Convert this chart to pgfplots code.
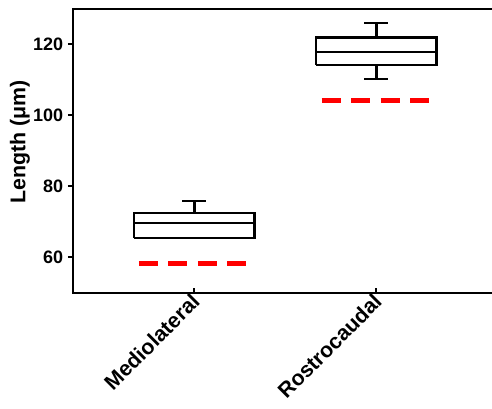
\documentclass[border=0pt]{standalone}
\usepackage{fontspec}
\setmainfont{Liberation Sans}
\usepackage{pgfplots}
\pgfplotsset{compat=1.18}
\begin{document}
\begin{tikzpicture}
\begin{axis}[
    scale only axis,
    width=318.9pt, height=212.8pt,
    xmin=0.332, xmax=2.668,
    ymin=50, ymax=130,
    ytick={60,80,100,120},
    xtick={1,2},
    xticklabels={Mediolateral,Rostrocaudal},
    xtick pos=bottom, ytick pos=left,
    tick align=outside,
    major tick length=3.6pt,
    axis line style={line width=1.5pt},
    every tick/.style={black, line width=1.5pt},
    xtick style={yshift=3.6pt},
    y tick label style={font=\bfseries\fontsize{13.5}{15}\selectfont},
    x tick label style={font=\bfseries\fontsize{16}{18}\selectfont,
        rotate=45, anchor=east, xshift=4pt, yshift=-1pt},
    /pgf/number format/assume math mode=true,
    ylabel={Length (μm)},
    ylabel style={font=\bfseries\fontsize{16}{18}\selectfont,
        at={(axis description cs:-0.124,0.531)}, anchor=center},
    box/.style={black, line width=1.9pt, line join=miter},
]
% Mediolateral: box, median, whisker
\addplot[box] coordinates {(0.67,65.4) (1.33,65.4) (1.33,72.5) (0.67,72.5) (0.67,65.4)};
\addplot[box] coordinates {(0.67,69.7) (1.33,69.7)};
\addplot[box] coordinates {(1,72.5) (1,75.9)};
\addplot[box] coordinates {(0.935,75.9) (1.065,75.9)};
% Rostrocaudal
\addplot[box] coordinates {(1.67,114.2) (2.33,114.2) (2.33,121.9) (1.67,121.9) (1.67,114.2)};
\addplot[box] coordinates {(1.67,117.9) (2.33,117.9)};
\addplot[box] coordinates {(2,121.9) (2,126.1)};
\addplot[box] coordinates {(1.935,126.1) (2.065,126.1)};
\addplot[box] coordinates {(2,114.2) (2,110.2)};
\addplot[box] coordinates {(1.935,110.2) (2.065,110.2)};
% reference lines
\addplot[red, line width=3.75pt, dash pattern=on 14.3pt off 7.8pt] coordinates {(0.696,58.2) (1.29,58.2)};
\addplot[red, line width=3.75pt, dash pattern=on 14.3pt off 7.8pt] coordinates {(1.70,104.2) (2.29,104.2)};
\end{axis}
\pgfresetboundingbox
\useasboundingbox (-54.5pt,-86.5pt) rectangle (314.5pt,219.5pt);
\end{tikzpicture}
\end{document}
